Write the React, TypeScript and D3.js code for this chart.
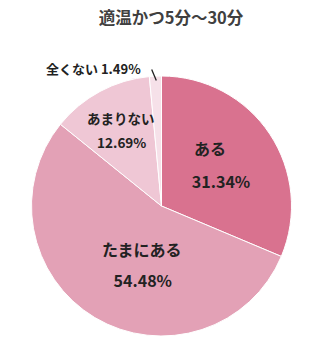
import React from "react";
import * as d3 from "d3";

const categories = ["ある", "たまにある", "あまりない", "全くない"];
const values = [31.34, 54.48, 12.69, 1.49];
const colors = ["#d9728f", "#e3a1b6", "#efc7d5", "#f6e1e9"];
const title = "適温かつ5分～30分";

export default function App() {
  const W = 328, H = 353;
  const cx = 161.5, cy = 206, r = 130;
  const pie = d3.pie<number>().sort(null).value((d) => d);
  const arcs = pie(values);
  const arc = d3.arc<d3.PieArcDatum<number>>().innerRadius(0).outerRadius(r);
  const font = "'Noto Sans CJK JP', 'Noto Sans', sans-serif";
  const labelArc = d3.arc<d3.PieArcDatum<number>>().innerRadius(r * 0.55).outerRadius(r * 0.55);
  const c0 = labelArc.centroid(arcs[0]);
  const c1 = labelArc.centroid(arcs[1]);
  const c2 = labelArc.centroid(arcs[2]);
  const outer = d3.arc<d3.PieArcDatum<number>>().innerRadius(r * 1.02).outerRadius(r * 1.02).centroid(arcs[3]);
  const outer2 = d3.arc<d3.PieArcDatum<number>>().innerRadius(r * 1.12).outerRadius(r * 1.12).centroid(arcs[3]);
  return (
    <svg width={W} height={H} style={{ position: "absolute", left: 0, top: 0 }}>
      <rect width={W} height={H} fill="#fff" />
      <text x={171} y={17} textAnchor="middle" fontFamily={font} fontWeight={700} fontSize={16.5} fill="#404040" dominantBaseline="central">
        {title}
      </text>
      <g transform={`translate(${cx},${cy})`}>
        {arcs.map((a, i) => (
          <path key={categories[i]} d={arc(a) || ""} fill={colors[i]} stroke="#fff" strokeWidth={1} />
        ))}
        <g fontFamily={font} fontWeight={700} fill="#222" textAnchor="middle">
          <text x={c0[0] - 11} y={c0[1] - 18} fontSize={16} dominantBaseline="central">{categories[0]}</text>
          <text x={c0[0]} y={c0[1] + 15} fontSize={16} dominantBaseline="central">{values[0].toFixed(2)}%</text>
          <text x={c1[0] + 17} y={c1[1] - 18} fontSize={16} dominantBaseline="central">{categories[1]}</text>
          <text x={c1[0] + 18} y={c1[1] + 13} fontSize={16} dominantBaseline="central">{values[1].toFixed(2)}%</text>
          <text x={c2[0] - 7} y={c2[1] - 25} fontSize={13.5} dominantBaseline="central">{categories[2]}</text>
          <text x={c2[0] - 6} y={c2[1] - 1} fontSize={13.5} dominantBaseline="central">{values[2].toFixed(2)}%</text>
        </g>
        <line x1={outer[0] + 1} y1={outer[1] + 7} x2={outer2[0] - 3} y2={outer2[1] + 9} stroke="#222" strokeWidth={1.3} />
        <text x={outer2[0] - 14} y={outer2[1] + 8} textAnchor="end" fontFamily={font} fontWeight={700} fontSize={13} fill="#222" dominantBaseline="central">
          {categories[3]} {values[3].toFixed(2)}%
        </text>
      </g>
    </svg>
  );
}
